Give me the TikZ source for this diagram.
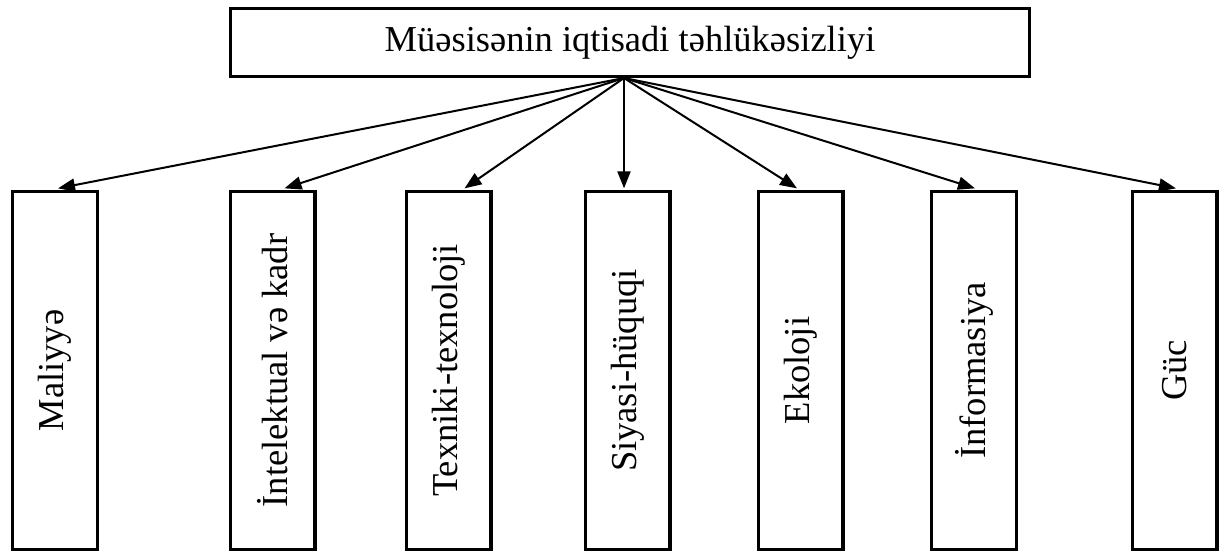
\documentclass[tikz,border=0pt]{standalone}
\usepackage{fontspec}
\setmainfont{Liberation Serif}
\usetikzlibrary{arrows.meta}
\tikzset{
  topbox/.style={draw=black, line width=3.3pt, fill=white, inner sep=0pt,
    minimum width=798.7pt, minimum height=67.7pt,
    font=\fontsize{36.5pt}{40pt}\selectfont},
  vbox/.style={draw=black, line width=3.3pt, fill=white, inner sep=0pt,
    rotate=90, minimum width=357.7pt, minimum height=84.7pt,
    font=\fontsize{36.5pt}{40pt}\selectfont},
  link/.style={line width=2pt, -{Triangle[length=17pt,width=13pt]}}
}
\begin{document}
\begin{tikzpicture}[x=1pt,y=-1pt]
\useasboundingbox (0,0) rectangle (1219,552);
\node[topbox] (top) at (630,42.5) {Müəsisənin iqtisadi təhlükəsizliyi};
\node[vbox] (b1) at (55,370.5) {Maliyyə};
\node[vbox] (b2) at (272.5,370.5) {İntelektual və kadr};
\node[vbox] (b3) at (448.5,370.5) {Texniki-texnoloji};
\node[vbox] (b4) at (627.5,370.5) {Siyasi-hüquqi};
\node[vbox] (b5) at (800.5,370.5) {Ekoloji};
\node[vbox] (b6) at (974,370.5) {İnformasiya};
\node[vbox] (b7) at (1174.5,370.5) {Güc};
\coordinate (apex) at ([xshift=-6pt]top.south);
\draw[link] (apex) -- ([xshift=3pt,yshift=1.65pt]b1.east);
\draw[link] (apex) -- ([xshift=12pt,yshift=1.65pt]b2.east);
\draw[link] (apex) -- ([xshift=16pt,yshift=1.65pt]b3.east);
\draw[link] (apex) -- ([xshift=-3.5pt,yshift=1.65pt]b4.east);
\draw[link] (apex) -- ([xshift=-3.5pt,yshift=1.65pt]b5.east);
\draw[link] (apex) -- ([xshift=1pt,yshift=1.65pt]b6.east);
\draw[link] (apex) -- ([xshift=1.5pt,yshift=1.65pt]b7.east);
\end{tikzpicture}
\end{document}
